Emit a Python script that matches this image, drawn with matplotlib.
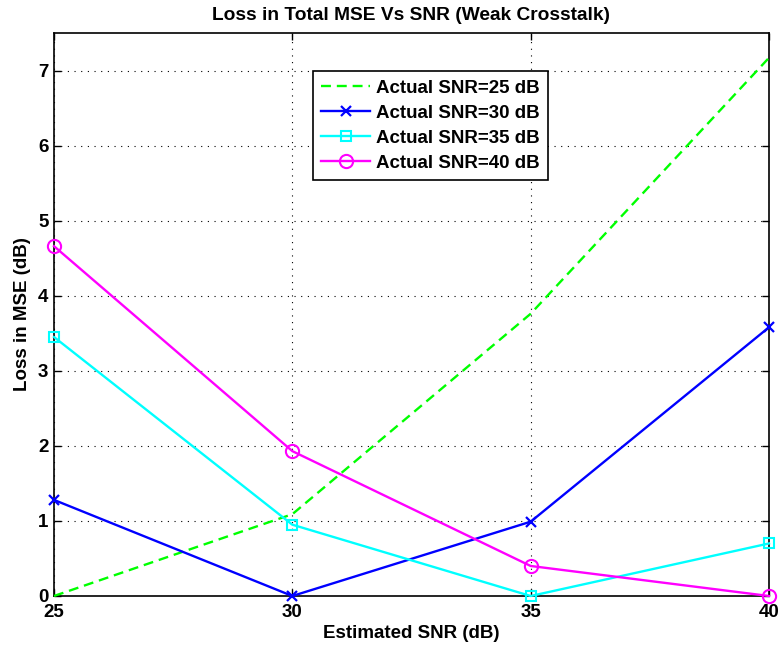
import matplotlib
matplotlib.use("Agg")
import matplotlib.pyplot as plt

# Estimated SNR values (x axis)
est_snr = [25, 30, 35, 40]

# Loss in MSE (dB) for each actual SNR
loss_25 = [0.0, 1.09, 3.76, 7.17]
loss_30 = [1.28, 0.0, 0.99, 3.58]
loss_35 = [3.45, 0.95, 0.0, 0.70]
loss_40 = [4.66, 1.93, 0.40, 0.0]

labels = ["Actual SNR=25 dB", "Actual SNR=30 dB", "Actual SNR=35 dB", "Actual SNR=40 dB"]

plt.rcParams["font.family"] = ["Liberation Sans", "DejaVu Sans"]
plt.rcParams["font.weight"] = "bold"
plt.rcParams["font.size"] = 13.5

fig = plt.figure(figsize=(7.79, 6.5), dpi=100)
ax = fig.add_axes([54 / 779, 54 / 650, 715 / 779, 563 / 650])

ax.plot(est_snr, loss_25, "--", color="#00ff00", lw=1.7, dashes=(4.2, 2.5),
        label=labels[0], clip_on=False, zorder=3)
ax.plot(est_snr, loss_30, "-x", color="#0000ff", lw=1.7, ms=6.5, mew=1.6,
        label=labels[1], clip_on=False, zorder=3)
ax.plot(est_snr, loss_35, "-s", color="#00ffff", lw=1.7, ms=7.5, mew=1.5,
        mfc="none", label=labels[2], clip_on=False, zorder=3)
ax.plot(est_snr, loss_40, "-o", color="#ff00ff", lw=1.7, ms=9.5, mew=1.5,
        mfc="none", label=labels[3], clip_on=False, zorder=3)

ax.set_xlim(25, 40)
ax.set_ylim(0, 7.5)
ax.set_xticks([25, 30, 35, 40])
ax.set_yticks(range(0, 8))

ax.grid(True, linestyle=(0, (1, 5)), color="black", lw=0.8)
ax.tick_params(direction="in", length=5, width=1, top=True, right=True,
               labelsize=13.5)
ax.tick_params(axis="x", pad=6)
ax.tick_params(axis="y", pad=4)
for sp in ax.spines.values():
    sp.set_linewidth(1.2)

ax.set_title("Loss in Total MSE Vs SNR (Weak Crosstalk)", fontsize=13.8,
             fontweight="bold", pad=9)
ax.set_xlabel("Estimated SNR (dB)", fontsize=13.5, fontweight="bold", labelpad=3)
ax.set_ylabel("Loss in MSE (dB)", fontsize=13.5, fontweight="bold", labelpad=5)

leg = ax.legend(loc="upper left", bbox_to_anchor=(0.362, 0.932), borderaxespad=0,
                fancybox=False, edgecolor="black", framealpha=1, fontsize=13.5,
                handlelength=2.6, handletextpad=0.3, labelspacing=0.42,
                borderpad=0.45)
leg.get_frame().set_linewidth(1.2)

fig.savefig("out.png", dpi=100)
